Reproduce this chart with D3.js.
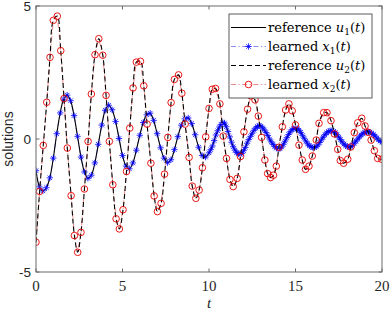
<!DOCTYPE html>
<html>
<head>
<meta charset="utf-8">
<script src="https://cdn.jsdelivr.net/npm/d3@7"></script>
<style>
  body { margin: 0; background: #fff; }
  svg { display: block; }
</style>
</head>
<body>
<div id="chart"></div>
<script>
// learned x1(t) samples (the reference u1 runs through them)
const x1T = [0, 0.2, 0.4, 0.6, 0.8, 1.0, 1.2, 1.4, 1.6, 1.8, 2.0, 2.2, 2.4, 2.6, 2.8, 3.0, 3.2, 3.4, 3.6, 3.8,
  4.0, 4.2, 4.4, 4.6, 4.8, 5.0, 5.2, 5.4, 5.6, 5.8, 6.0, 6.2, 6.4, 6.6, 6.8, 7.0, 7.2, 7.4, 7.6, 7.8,
  8.0, 8.2, 8.4, 8.6, 8.8, 9.0, 9.2, 9.4, 9.6, 9.8,
  10.0, 10.1, 10.2, 10.3, 10.4, 10.5, 10.6, 10.7, 10.8, 10.9, 11.0, 11.1, 11.2, 11.3, 11.4, 11.5, 11.6, 11.7, 11.8, 11.9,
  12.0, 12.1, 12.2, 12.3, 12.4, 12.5, 12.6, 12.7, 12.8, 12.9, 13.0, 13.1, 13.2, 13.3, 13.4, 13.5, 13.6, 13.7, 13.8, 13.9,
  14.0, 14.1, 14.2, 14.3, 14.4, 14.5, 14.6, 14.7, 14.8, 14.9, 15.0, 15.1, 15.2, 15.3, 15.4, 15.5, 15.6, 15.7, 15.8, 15.9,
  16.0, 16.1, 16.2, 16.3, 16.4, 16.5, 16.6, 16.7, 16.8, 16.9, 17.0, 17.1, 17.2, 17.3, 17.4, 17.5, 17.6, 17.7, 17.8, 17.9,
  18.0, 18.1, 18.2, 18.3, 18.4, 18.5, 18.6, 18.7, 18.8, 18.9, 19.0, 19.1, 19.2, 19.3, 19.4, 19.5, 19.6, 19.7, 19.8, 19.9, 20.0];
const x1Vals = [-1.19, -1.8, -1.95, -1.83, -1.46, -0.72, 0.2, 0.98, 1.5, 1.65, 1.44, 0.88, 0.1, -0.68, -1.24, -1.48, -1.36, -0.9, -0.2, 0.52,
  1.08, 1.27, 1.1, 0.66, 0.02, -0.62, -1.02, -1.12, -0.9, -0.42, 0.14, 0.62, 0.91, 0.97, 0.7, 0.2, -0.33, -0.72, -0.89, -0.78,
  -0.4, 0.09, 0.52, 0.76, 0.79, 0.58, 0.16, -0.31, -0.62, -0.68,
  -0.52, -0.4, -0.26, -0.06, 0.15, 0.31, 0.45, 0.55, 0.61, 0.6, 0.46, 0.28, 0.08, -0.12, -0.29, -0.42, -0.51, -0.56, -0.57, -0.54,
  -0.44, -0.32, -0.16, -0.02, 0.1, 0.22, 0.33, 0.41, 0.47, 0.5, 0.48, 0.42, 0.34, 0.24, 0.13, 0.0, -0.11, -0.2, -0.28, -0.34,
  -0.37, -0.36, -0.3, -0.2, -0.08, 0.05, 0.17, 0.27, 0.35, 0.39, 0.41, 0.39, 0.33, 0.25, 0.14, 0.03, -0.08, -0.18, -0.25, -0.3,
  -0.32, -0.32, -0.29, -0.22, -0.13, -0.03, 0.07, 0.16, 0.23, 0.28, 0.31, 0.31, 0.29, 0.24, 0.16, 0.07, -0.02, -0.11, -0.19, -0.25,
  -0.29, -0.3, -0.28, -0.23, -0.16, -0.08, 0.0, 0.08, 0.15, 0.21, 0.25, 0.27, 0.27, 0.26, 0.22, 0.17, 0.11, 0.04, -0.03, -0.08, -0.12];

// learned x2(t) samples (the reference u2 runs through them)
const x2T = [0, 0.21, 0.42, 0.62, 0.81, 1.0, 1.23, 1.43, 1.62, 1.81, 2.03, 2.22, 2.41, 2.6, 2.8, 3.01, 3.2, 3.41, 3.63, 3.86,
  4.05, 4.24, 4.44, 4.63, 4.82, 5.03, 5.23, 5.42, 5.61, 5.8, 6.04, 6.23, 6.42, 6.64, 6.83, 7.02, 7.23, 7.43, 7.62, 7.81,
  8.0, 8.24, 8.43, 8.62, 8.85, 9.03, 9.24, 9.43, 9.62, 9.81, 10.0, 10.19, 10.38, 10.63, 10.82, 11.01, 11.21, 11.4, 11.63, 11.82,
  12.02, 12.23, 12.42, 12.66, 12.85, 13.04, 13.23, 13.39, 13.56, 13.73, 13.89, 14.04, 14.24, 14.43, 14.62, 14.81, 15.0, 15.2, 15.39, 15.58,
  15.78, 15.97, 16.2, 16.36, 16.63, 16.82, 17.05, 17.25, 17.44, 17.59, 17.78, 18.02, 18.2, 18.4, 18.6, 18.83, 19.02, 19.2, 19.37, 19.56,
  19.75, 19.98];
const x2Vals = [-3.88, -1.97, -0.24, 1.38, 3.07, 4.46, 4.62, 3.32, 1.52, -0.34, -2.13, -3.63, -4.26, -3.51, -1.88, -0.09, 1.69, 3.17, 3.77, 3.15,
  1.64, -0.09, -1.72, -3.0, -3.38, -2.66, -1.22, 0.41, 1.92, 2.89, 2.92, 2.0, 0.56, -0.91, -2.14, -2.73, -2.42, -1.32, 0.06, 1.37,
  2.24, 2.41, 1.72, 0.56, -0.69, -1.77, -2.23, -1.92, -1.08, 0.08, 1.15, 1.87, 1.9, 1.32, 0.11, -0.73, -1.52, -1.79, -1.48, -0.66,
  0.27, 1.12, 1.62, 1.47, 0.86, 0.06, -0.79, -1.3, -1.45, -1.36, -1.02, -0.31, 0.46, 1.09, 1.32, 1.06, 0.53, -0.23, -0.79, -1.14,
  -1.02, -0.64, -0.04, 0.59, 0.99, 0.99, 0.69, 0.19, -0.39, -0.81, -0.91, -0.76, -0.3, 0.24, 0.61, 0.78, 0.49, 0.25, -0.04, -0.44,
  -0.73, -0.76];

const xTicks = [0, 5, 10, 15, 20];
const yTicks = [-5, 0, 5];
const legendItems = [
  { word: 'reference', v: 'u', sub: '1', key: 'u1' },
  { word: 'learned', v: 'x', sub: '1', key: 'x1' },
  { word: 'reference', v: 'u', sub: '2', key: 'u2' },
  { word: 'learned', v: 'x', sub: '2', key: 'x2' }
];

const width = 390, height = 312;
const margin = { top: 6, right: 8, bottom: 40, left: 36 };
const iw = width - margin.left - margin.right;
const ih = height - margin.top - margin.bottom;

const blue = '#0000ff', blueLight = '#8c8cff';
const red = '#e60000', redLight = '#f08a8a';
const serif = '"DejaVu Serif", serif';
const sans = '"Liberation Sans", Arial, sans-serif';

const x = d3.scaleLinear().domain([0, 20]).range([0, iw]);
const y = d3.scaleLinear().domain([-5, 5]).range([ih, 0]);

const x1 = x1T.map((t, i) => [t, x1Vals[i]]);
const x2 = x2T.map((t, i) => [t, x2Vals[i]]);

const svg = d3.select('#chart').append('svg')
  .attr('width', width)
  .attr('height', height);

svg.append('defs').append('clipPath').attr('id', 'plotclip')
  .append('rect').attr('width', iw).attr('height', ih);

const g = svg.append('g').attr('transform', `translate(${margin.left},${margin.top})`);

const lineLin = d3.line().x(d => x(d[0])).y(d => y(d[1]));
const lineSmooth = d3.line().x(d => x(d[0])).y(d => y(d[1])).curve(d3.curveCatmullRom.alpha(0.5));

const plot = g.append('g').attr('clip-path', 'url(#plotclip)');

// star marker like matlab '*'
function starPath(s) {
  const a = s * 0.7;
  return `M${-s},0L${s},0M0,${-s}L0,${s}M${-a},${-a}L${a},${a}M${-a},${a}L${a},${-a}`;
}

// u1 + x1
plot.append('path').datum(x1)
  .attr('d', lineLin)
  .attr('fill', 'none')
  .attr('stroke', blueLight)
  .attr('stroke-width', 1)
  .attr('stroke-dasharray', '5,2.5,1.2,2.5');

plot.append('path').datum(x1)
  .attr('d', lineSmooth)
  .attr('fill', 'none')
  .attr('stroke', '#000')
  .attr('stroke-width', 1.1);

plot.selectAll('.star').data(x1).enter().append('path')
  .attr('class', 'star')
  .attr('transform', d => `translate(${x(d[0])},${y(d[1])})`)
  .attr('d', starPath(3.2))
  .attr('stroke', blue)
  .attr('stroke-width', 0.8)
  .attr('fill', 'none');

// u2 + x2
plot.append('path').datum(x2)
  .attr('d', lineLin)
  .attr('fill', 'none')
  .attr('stroke', redLight)
  .attr('stroke-width', 1)
  .attr('stroke-dasharray', '5,2.5,1.2,2.5');

plot.append('path').datum(x2)
  .attr('d', lineSmooth)
  .attr('fill', 'none')
  .attr('stroke', '#000')
  .attr('stroke-width', 1.1)
  .attr('stroke-dasharray', '5,3');

plot.selectAll('.circ').data(x2).enter().append('circle')
  .attr('class', 'circ')
  .attr('cx', d => x(d[0]))
  .attr('cy', d => y(d[1]))
  .attr('r', 3.3)
  .attr('fill', 'none')
  .attr('stroke', red)
  .attr('stroke-width', 0.9);

// axes box and ticks
const axisColor = '#6b6b6b';
g.append('rect')
  .attr('width', iw).attr('height', ih)
  .attr('fill', 'none')
  .attr('stroke', axisColor)
  .attr('stroke-width', 1);

const tl = 3.5;
xTicks.forEach(t => {
  g.append('line').attr('x1', x(t)).attr('x2', x(t)).attr('y1', ih).attr('y2', ih - tl).attr('stroke', axisColor);
  g.append('line').attr('x1', x(t)).attr('x2', x(t)).attr('y1', 0).attr('y2', tl).attr('stroke', axisColor);
});
yTicks.forEach(t => {
  g.append('line').attr('x1', 0).attr('x2', tl).attr('y1', y(t)).attr('y2', y(t)).attr('stroke', axisColor);
  g.append('line').attr('x1', iw).attr('x2', iw - tl).attr('y1', y(t)).attr('y2', y(t)).attr('stroke', axisColor);
});

g.selectAll('.xtl').data(xTicks).enter().append('text')
  .attr('class', 'xtl')
  .attr('x', d => x(d))
  .attr('y', ih + 19)
  .attr('text-anchor', 'middle')
  .attr('font-family', '"Liberation Serif", serif')
  .attr('font-size', 15)
  .attr('fill', '#262626')
  .text(d => d);

g.selectAll('.ytl').data(yTicks).enter().append('text')
  .attr('class', 'ytl')
  .attr('x', -5)
  .attr('y', d => y(d))
  .attr('dy', '0.36em')
  .attr('text-anchor', 'end')
  .attr('font-family', sans)
  .attr('font-size', 13.5)
  .attr('fill', '#262626')
  .text(d => d);

g.append('text')
  .attr('x', iw / 2)
  .attr('y', ih + 36)
  .attr('text-anchor', 'middle')
  .attr('font-family', '"Liberation Serif", serif')
  .attr('font-style', 'italic')
  .attr('font-size', 15)
  .attr('fill', '#262626')
  .text('t');

g.append('text')
  .attr('transform', `translate(-23,${ih / 2}) rotate(-90)`)
  .attr('text-anchor', 'middle')
  .attr('font-family', sans)
  .attr('font-size', 14)
  .attr('fill', '#262626')
  .text('solutions');

// legend
const lg = svg.append('g').attr('transform', 'translate(229,14)');
lg.append('rect')
  .attr('width', 143).attr('height', 84)
  .attr('fill', '#fff')
  .attr('stroke', '#333')
  .attr('stroke-width', 0.8);

const rowY = i => 13.5 + i * 19;
legendItems.forEach((it, i) => {
  const ry = rowY(i);
  const row = lg.append('g');
  if (it.key === 'u1') {
    row.append('line').attr('x1', 2).attr('x2', 37).attr('y1', ry).attr('y2', ry)
      .attr('stroke', '#000').attr('stroke-width', 1.1);
  } else if (it.key === 'u2') {
    row.append('line').attr('x1', 2).attr('x2', 37).attr('y1', ry).attr('y2', ry)
      .attr('stroke', '#000').attr('stroke-width', 1.1).attr('stroke-dasharray', '5,3');
  } else {
    const c = it.key === 'x1' ? blueLight : redLight;
    row.append('line').attr('x1', 2).attr('x2', 37).attr('y1', ry).attr('y2', ry)
      .attr('stroke', c).attr('stroke-width', 1).attr('stroke-dasharray', '5,2.5,1.2,2.5');
    if (it.key === 'x1') {
      row.append('path').attr('transform', `translate(19.5,${ry})`).attr('d', starPath(3.2))
        .attr('stroke', blue).attr('stroke-width', 0.8).attr('fill', 'none');
    } else {
      row.append('circle').attr('cx', 19.5).attr('cy', ry).attr('r', 3.3)
        .attr('fill', 'none').attr('stroke', red).attr('stroke-width', 0.9);
    }
  }
  const tx = row.append('text')
    .attr('x', 39)
    .attr('y', ry + 4.5)
    .attr('font-family', serif)
    .attr('font-size', 13)
    .attr('fill', '#000');
  tx.append('tspan').text(it.word + ' ');
  tx.append('tspan').attr('font-style', 'italic').text(it.v);
  tx.append('tspan').attr('font-size', 9).attr('dy', 3).text(it.sub);
  tx.append('tspan').attr('dy', -3).text('(');
  tx.append('tspan').attr('font-style', 'italic').text('t');
  tx.append('tspan').text(')');
});
</script>
</body>
</html>
